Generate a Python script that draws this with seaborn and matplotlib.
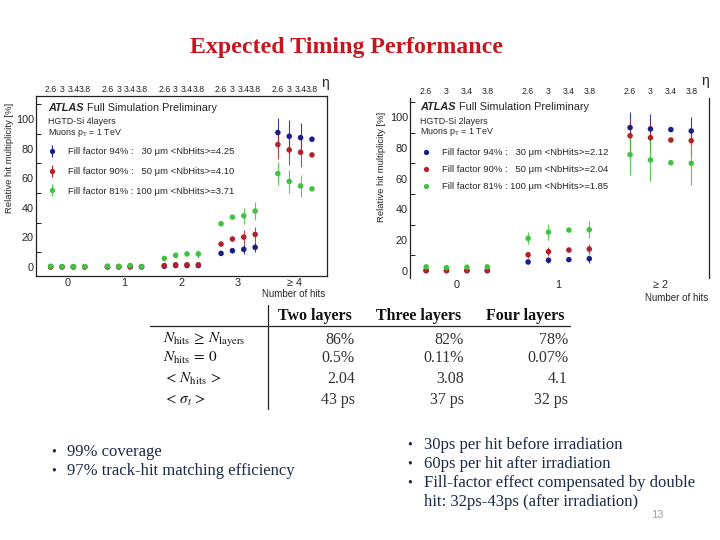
import numpy as np
import pandas as pd
import matplotlib
matplotlib.use("Agg")
import matplotlib.pyplot as plt
import seaborn as sns
from matplotlib.lines import Line2D

# ---------------- data ----------------
bins4 = ["0", "1", "2", "3", "≥ 4"]
bins2 = ["0", "1", "≥ 2"]
eta_labels = ["2.6", "3", "3.4", "3.8"]

series4 = ["Fill factor 94% :   30 μm <NbHits>=4.25",
           "Fill factor 90% :   50 μm <NbHits>=4.10",
           "Fill factor 81% : 100 μm <NbHits>=3.71"]
series2 = ["Fill factor 94% :   30 μm <NbHits>=2.12",
           "Fill factor 90% :   50 μm <NbHits>=2.04",
           "Fill factor 81% : 100 μm <NbHits>=1.85"]

# 4 layers: values per bin (0,1,2,3,>=4) x eta (2.6,3,3.4,3.8)
blue4 = [0.1, 0.1, 0.1, 0.1,  0.1, 0.1, 0.1, 0.1,  0.5, 1.0, 1.0, 1.0,
         9.2, 11.0, 11.9, 13.3,  90.8, 88.3, 87.4, 86.3]
red4 = [0.1, 0.1, 0.1, 0.1,  0.2, 0.2, 0.3, 0.2,  1.0, 1.5, 1.5, 1.5,
        15.5, 18.9, 20.2, 22.0,  82.7, 79.1, 77.5, 75.7]
green4 = [0.5, 0.3, 0.3, 0.3,  0.6, 0.5, 1.0, 0.3,  5.8, 7.9, 8.8, 8.8,
          29.2, 33.7, 34.6, 37.8,  63.1, 57.8, 54.8, 52.8]
blue4_err = [0, 0, 0, 0,  0, 0, 0, 0,  0.3, 0.5, 0.3, 0.8,
             1.0, 1.5, 3.4, 3.5,  10, 11, 10, 0]
red4_err = [0, 0, 0, 0,  0, 0, 0, 0,  0.5, 0.8, 0.3, 1.5,
            1.0, 1.5, 4.5, 5.0,  10, 10, 10, 0]
green4_err = [0.5, 0.3, 0.3, 0.3,  0.3, 0.3, 1.0, 0.3,  1.5, 2.0, 0.5, 3.0,
              1.0, 1.5, 5.3, 6.0,  8, 8, 7.5, 0]

# 2 layers: bins (0,1,>=2)
blue2 = [0.0, 0.0, 0.0, 0.0,  5.7, 6.8, 7.2, 7.8,  93.3, 92.4, 92.0, 91.1]
red2 = [0.2, 0.2, 0.2, 0.2,  10.4, 12.4, 13.5, 14.1,  88.0, 86.7, 85.2, 84.8]
green2 = [2.5, 2.0, 2.3, 2.5,  21.1, 25.2, 26.5, 26.7,  75.7, 72.2, 70.4, 70.0]
blue2_err = [0, 0, 0, 0,  1.5, 2.0, 1.0, 2.5,  10, 10, 0, 9]
red2_err = [0.5, 0.5, 0.5, 0.5,  2.0, 3.0, 1.0, 3.5,  10, 10, 0, 10]
green2_err = [1.5, 1.0, 1.5, 1.5,  4.0, 5.0, 0.8, 5.5,  13, 14, 0, 14]

table_cols = ["Two layers", "Three layers", "Four layers"]
table_rows = [r"$N_{\mathrm{hits}}\,\geq\,N_{\mathrm{layers}}$",
              r"$N_{\mathrm{hits}}\,=\,0$",
              r"$<\,N_{\mathrm{hits}}\,>$",
              r"$<\,\sigma_{t}\,>$"]
table_vals = [["86%", "82%", "78%"],
              ["0.5%", "0.11%", "0.07%"],
              ["2.04", "3.08", "4.1"],
              ["43 ps", "37 ps", "32 ps"]]

bullets_left = ["99% coverage", "97% track-hit matching efficiency"]
bullets_right = ["30ps per hit before irradiation",
                 "60ps per hit after irradiation",
                 "Fill-factor effect compensated by double"]
bullet_right_cont = "hit: 32ps-43ps (after irradiation)"

colors = ["#1d1d8a", "#b3222b", "#3ec43e"]

# ---------------- style ----------------
sns.set_theme(style="white")
plt.rcParams["font.family"] = ["Liberation Sans", "DejaVu Sans"]
plt.rcParams["mathtext.fontset"] = "stix"

W, H = 720, 540
fig = plt.figure(figsize=(7.2, 5.4), dpi=100)
fig.patch.set_facecolor("white")


def fx(x):
    return x / W


def fy(y):
    return 1 - y / H


offsets = [-0.3, -0.1, 0.1, 0.3]


def make_df(bins, names, vals, errs):
    rows = []
    for name, v, e in zip(names, vals, errs):
        k = 0
        for i, _ in enumerate(bins):
            for j, _ in enumerate(eta_labels):
                rows.append({"x": i + offsets[j], "value": v[k], "err": e[k], "series": name})
                k += 1
    return pd.DataFrame(rows)


def draw_panel(ax, bins, names, vals, errs, xlim, ylim, legend_err):
    df = make_df(bins, names, vals, errs)
    for name, c in zip(names, colors):
        sub = df[df.series == name]
        ax.errorbar(sub.x, sub.value, yerr=sub.err, fmt="none", ecolor=c,
                    elinewidth=0.8, capsize=0, alpha=0.85)
    sns.scatterplot(data=df, x="x", y="value", hue="series", palette=colors,
                    s=16, linewidth=0, ax=ax, legend=False, zorder=3)
    ax.set_xlim(*xlim)
    ax.set_ylim(*ylim)
    ax.set_xticks(range(len(bins)))
    ax.set_xticklabels(bins)
    ax.set_yticks([0, 20, 40, 60, 80, 100])
    ax.set_yticks([10, 30, 50, 70, 90, 110], minor=True)
    ax.tick_params(axis="both", which="major", direction="in", labelsize=7.8,
                   length=6, width=0.8, color="#222222", pad=1.5)
    ax.tick_params(axis="y", which="minor", direction="in", length=3.5,
                   width=0.7, color="#222222", left=True)
    ax.tick_params(axis="x", which="major", length=4)
    for s in ax.spines.values():
        s.set_color("#222222")
        s.set_linewidth(0.9)
    ax.set_ylabel("Relative hit multiplicity [%]", fontsize=6.8)
    ax.set_xlabel("Number of hits", fontsize=7, loc="right")
    sec = ax.secondary_xaxis("top")
    pos = [i + o for i in range(len(bins)) for o in offsets]
    sec.set_xticks(pos)
    sec.set_xticklabels(eta_labels * len(bins))
    sec.tick_params(length=0, pad=1.5, labelsize=6.3)
    sec.spines["top"].set_visible(False)
    # legend
    handles = []
    for c in colors:
        dot = Line2D([0], [0], marker="o", color=c, ms=3.8, linestyle="none", mew=0)
        if legend_err:
            bar = Line2D([0], [0], marker="|", color=c, ms=8, linestyle="none", mew=0.8)
            handles.append((bar, dot))
        else:
            handles.append(dot)
    return handles, df


# ---- left panel (4 layers) ----
axL = fig.add_axes([fx(36), fy(276), (327 - 36) / W, (276 - 96) / H])
hL, _ = draw_panel(axL, bins4, series4, [blue4, red4, green4],
                   [blue4_err, red4_err, green4_err],
                   (-0.558, 4.565), (-6.08, 115.5), True)
axL.yaxis.set_label_coords(-0.074, 0.656)
axL.xaxis.set_label_coords(0.995, -0.07)
axL.legend(hL, series4, loc="upper left", bbox_to_anchor=(fx(47), fy(147)),
           bbox_transform=fig.transFigure, frameon=False, fontsize=6.8,
           handlelength=1.0, handletextpad=1.2, labelspacing=1.15,
           borderpad=0, borderaxespad=0)

# ---- right panel (2 layers) ----
axR = fig.add_axes([fx(410), fy(278), (709 - 410) / W, (278 - 98) / H])
hR, _ = draw_panel(axR, bins2, series2, [blue2, red2, green2],
                   [blue2_err, red2_err, green2_err],
                   (-0.458, 2.474), (-4.76, 112.6), False)
axR.spines["top"].set_visible(False)
axR.spines["bottom"].set_visible(False)
axR.yaxis.set_label_coords(-0.079, 0.617)
axR.xaxis.set_label_coords(0.997, -0.086)
axR.legend(hR, series2, loc="upper left", bbox_to_anchor=(fx(421), fy(148)),
           bbox_transform=fig.transFigure, frameon=False, fontsize=6.8,
           handlelength=1.0, handletextpad=1.2, labelspacing=0.85,
           borderpad=0, borderaxespad=0)

# ATLAS headers
for ax, (x0, ytop, lay) in [(axL, (48, 108, "HGTD-Si 4layers")),
                            (axR, (420, 107, "HGTD-Si 2layers"))]:
    t1 = fig.text(fx(x0), fy(ytop), "ATLAS", fontsize=7.8, fontweight="bold",
                  fontstyle="italic", va="center", ha="left")
    ax.annotate(" Full Simulation Preliminary", xy=(1, 0.5), xycoords=t1,
                fontsize=7.8, va="center", ha="left", annotation_clip=False)
    fig.text(fx(x0), fy(ytop + 14), lay, fontsize=6.4, va="center", ha="left")
    fig.text(fx(x0), fy(ytop + 25), r"Muons p$_{\mathrm{T}}$ = 1 TeV", fontsize=6.4,
             va="center", ha="left")

fig.text(fx(325), fy(83), "η", fontsize=10, ha="center", va="center")
fig.text(fx(705), fy(81), "η", fontsize=10, ha="center", va="center")

# ---------------- title ----------------
fig.text(fx(347), fy(48), "Expected Timing Performance", fontsize=17.2,
         fontweight="bold", color="#c8141c", ha="center", va="center",
         family=["Liberation Serif", "DejaVu Serif"])

# ---------------- table ----------------
serif = ["Liberation Serif", "DejaVu Serif"]
head_x = [278, 376, 486]
val_x = [355, 464, 568]
row_y = [340, 358, 379, 400]
for hx, col in zip(head_x, table_cols):
    fig.text(fx(hx), fy(316), col, fontsize=11.5, fontweight="bold", family=serif,
             ha="left", va="center", color="#111111")
for ry, lab, vals in zip(row_y, table_rows, table_vals):
    fig.text(fx(163), fy(ry), lab, fontsize=11, ha="left", va="center",
             color="#111111")
    for vx, v in zip(val_x, vals):
        fig.text(fx(vx), fy(ry), v, fontsize=11.5, family=serif, ha="right",
                 va="center", color="#333333")
fig.add_artist(Line2D([fx(150), fx(570)], [fy(326), fy(326)], color="#222222", lw=0.9))
fig.add_artist(Line2D([fx(268), fx(268)], [fy(305), fy(409)], color="#222222", lw=0.9))

# ---------------- bullets ----------------
navy = "#1c2a48"
for k, t in enumerate(bullets_left):
    y = 452 + 19 * k
    fig.text(fx(51), fy(y), "•", fontsize=10, family=serif, color=navy, ha="left", va="center")
    fig.text(fx(67), fy(y), t, fontsize=12, family=serif, color=navy, ha="left", va="center")
for k, t in enumerate(bullets_right):
    y = 445 + 19 * k
    fig.text(fx(407), fy(y), "•", fontsize=10, family=serif, color=navy, ha="left", va="center")
    fig.text(fx(424), fy(y), t, fontsize=12, family=serif, color=navy, ha="left", va="center")
fig.text(fx(424), fy(502), bullet_right_cont, fontsize=12, family=serif, color=navy,
         ha="left", va="center")
fig.text(fx(657), fy(515), "13", fontsize=8, color="#a0a0a0", ha="center", va="center",
         family=["Liberation Sans", "DejaVu Sans"])

fig.savefig("out.png", dpi=100, facecolor="white")
